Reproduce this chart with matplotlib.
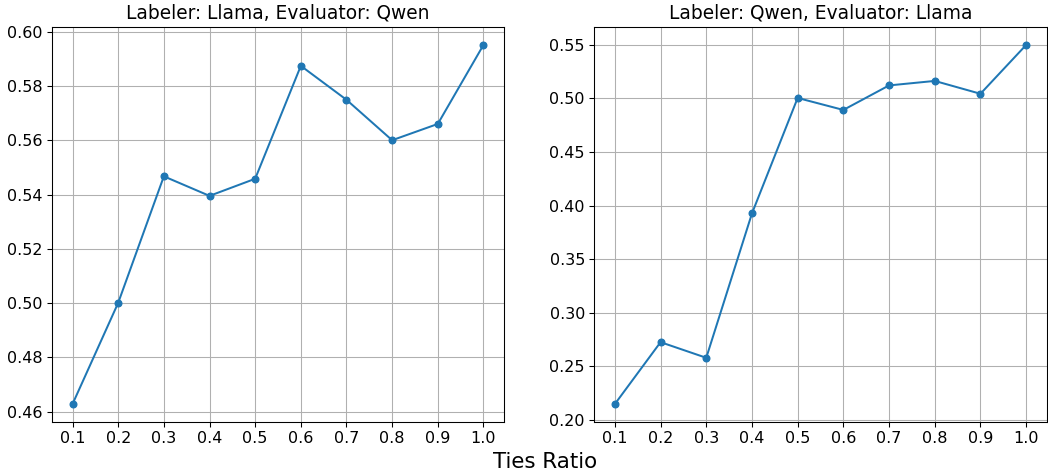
import matplotlib
matplotlib.use("Agg")
import matplotlib.pyplot as plt

ties_ratio = [0.1, 0.2, 0.3, 0.4, 0.5, 0.6, 0.7, 0.8, 0.9, 1.0]
llama_qwen = [0.4628, 0.5001, 0.5467, 0.5395, 0.5458, 0.5874, 0.5749, 0.5600, 0.5660, 0.5951]
qwen_llama = [0.2146, 0.2724, 0.2578, 0.3926, 0.5005, 0.4893, 0.5122, 0.5164, 0.5044, 0.5500]
titles = ["Labeler: Llama, Evaluator: Qwen", "Labeler: Qwen, Evaluator: Llama"]
xlabel = "Ties Ratio"

dpi = 96
fig = plt.figure(figsize=(1048 / dpi, 470 / dpi), dpi=dpi)
W, H = 1048, 470
ax1 = fig.add_axes([52 / W, 1 - 422 / H, (504 - 52) / W, (422 - 27) / H])
ax2 = fig.add_axes([594.3 / W, 1 - 422 / H, (1046.7 - 594.3) / W, (422 - 27) / H])

for ax, ys, t in zip([ax1, ax2], [llama_qwen, qwen_llama], titles):
    ax.plot(ties_ratio, ys, marker="o", color="#1f77b4", linewidth=1.5, markersize=5)
    ax.set_xticks(ties_ratio)
    ax.set_xticklabels([f"{v:.1f}" for v in ties_ratio])
    ax.tick_params(labelsize=12)
    ax.set_title(t, fontsize=14)
    ax.grid(True)

ax1.set_yticks([0.46, 0.48, 0.50, 0.52, 0.54, 0.56, 0.58, 0.60])
ax1.set_yticklabels([f"{v:.2f}" for v in [0.46, 0.48, 0.50, 0.52, 0.54, 0.56, 0.58, 0.60]])
ax2.set_yticks([0.20, 0.25, 0.30, 0.35, 0.40, 0.45, 0.50, 0.55])
ax2.set_yticklabels([f"{v:.2f}" for v in [0.20, 0.25, 0.30, 0.35, 0.40, 0.45, 0.50, 0.55]])

fig.text(545 / W, 1 - 462 / H, xlabel, ha="center", va="center", fontsize=16)

fig.savefig("out.png", dpi=dpi)
